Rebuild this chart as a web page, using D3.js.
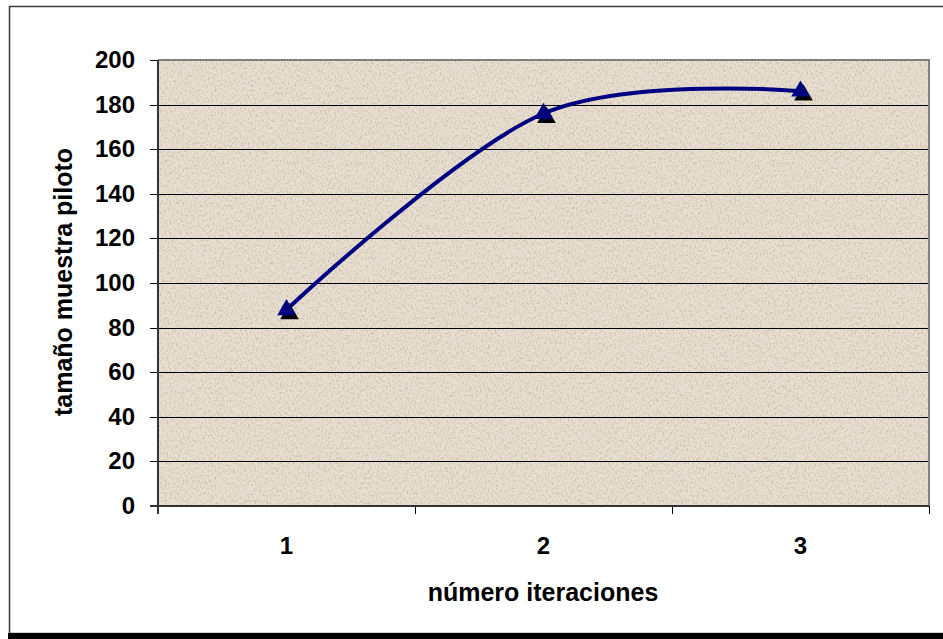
<!DOCTYPE html>
<html>
<head>
<meta charset="utf-8">
<script src="https://cdn.jsdelivr.net/npm/d3@7"></script>
<style>
  html, body { margin: 0; padding: 0; background: #fff; }
  svg { display: block; font-family: "Liberation Sans", Arial, sans-serif; }
</style>
</head>
<body>
<div id="chart"></div>
<script>
// Datos
const iteraciones = [1, 2, 3];
const tamanoMuestra = [88, 176, 186];
const yTicks = [0, 20, 40, 60, 80, 100, 120, 140, 160, 180, 200];
const xTitle = "número iteraciones";
const yTitle = "tamaño muestra piloto";

const width = 943, height = 639;
const plot = { left: 158, right: 929, top: 60, bottom: 506 };

const svg = d3.select("#chart")
    .append("svg")
    .attr("width", width)
    .attr("height", height);

// Textura del área de trazado
const defs = svg.append("defs");
const grain = defs.append("filter")
    .attr("id", "grain")
    .attr("x", 0).attr("y", 0).attr("width", 1).attr("height", 1);
grain.append("feTurbulence")
    .attr("type", "fractalNoise")
    .attr("baseFrequency", "0.6 0.4")
    .attr("numOctaves", 3)
    .attr("seed", 7);
grain.append("feColorMatrix")
    .attr("type", "matrix")
    .attr("values", "0 0 0 0 0.6  0 0 0 0 0.5  0 0 0 0 0.4  2.8 0 0 0 -1.3");

// Marco exterior
svg.append("rect")
    .attr("x", 9.5).attr("y", 6.5)
    .attr("width", width).attr("height", 627)
    .attr("fill", "#fff")
    .attr("stroke", "#3a3a3a")
    .attr("stroke-width", 1.5);
svg.append("rect")
    .attr("x", 8).attr("y", 633)
    .attr("width", width).attr("height", 6)
    .attr("fill", "#000");

const x = d3.scaleBand()
    .domain(iteraciones)
    .range([plot.left, plot.right]);

const y = d3.scaleLinear()
    .domain([0, 200])
    .range([plot.bottom, plot.top]);

// Fondo
svg.append("rect")
    .attr("x", plot.left).attr("y", plot.top)
    .attr("width", plot.right - plot.left)
    .attr("height", plot.bottom - plot.top)
    .attr("fill", "#e8dfd3");
svg.append("rect")
    .attr("x", plot.left).attr("y", plot.top)
    .attr("width", plot.right - plot.left)
    .attr("height", plot.bottom - plot.top)
    .attr("filter", "url(#grain)");

// Líneas de división
svg.append("g")
    .selectAll("line")
    .data(yTicks.filter(d => d > 0 && d < 200))
    .enter().append("line")
    .attr("x1", plot.left).attr("x2", plot.right)
    .attr("y1", d => Math.round(y(d)) + 0.5).attr("y2", d => Math.round(y(d)) + 0.5)
    .attr("stroke", "#000")
    .attr("stroke-width", 1);

// Borde gris del área de trazado
svg.append("path")
    .attr("d", `M${plot.left},${plot.top}H${plot.right}V${plot.bottom}`)
    .attr("fill", "none")
    .attr("stroke", "#808080")
    .attr("stroke-width", 2);

// Eje Y
const yAxis = d3.axisLeft(y)
    .tickValues(yTicks)
    .tickSize(8)
    .tickPadding(15);
const gy = svg.append("g")
    .attr("transform", `translate(${plot.left},0)`)
    .call(yAxis);
gy.select(".domain").remove();
gy.selectAll(".tick")
    .attr("transform", d => `translate(0,${Math.round(y(d)) + 0.5})`);
gy.selectAll("text")
    .attr("font-size", 24)
    .attr("font-weight", "bold")
    .attr("font-family", "Liberation Sans, Arial, sans-serif")
    .attr("fill", "#000");

// Eje X: marcas en los límites de cada categoría
const bounds = iteraciones.map(d => x(d)).concat([x(iteraciones[iteraciones.length - 1]) + x.bandwidth()]);
svg.append("g")
    .selectAll("line")
    .data(bounds)
    .enter().append("line")
    .attr("x1", d => Math.round(d) + 0.5).attr("x2", d => Math.round(d) + 0.5)
    .attr("y1", plot.bottom).attr("y2", plot.bottom + 8)
    .attr("stroke", "#000");
svg.append("g")
    .selectAll("text")
    .data(iteraciones)
    .enter().append("text")
    .attr("x", d => x(d) + x.bandwidth() / 2)
    .attr("y", 554)
    .attr("text-anchor", "middle")
    .attr("font-size", 24)
    .attr("font-weight", "bold")
    .text(d => d);

// Líneas de los ejes
svg.append("line")
    .attr("x1", plot.left).attr("x2", plot.left)
    .attr("y1", plot.top).attr("y2", plot.bottom + 8)
    .attr("stroke", "#333").attr("stroke-width", 2);
svg.append("line")
    .attr("x1", plot.left - 8).attr("x2", plot.right)
    .attr("y1", plot.bottom).attr("y2", plot.bottom)
    .attr("stroke", "#333").attr("stroke-width", 2);

// Títulos
svg.append("text")
    .attr("x", 543)
    .attr("y", 601)
    .attr("text-anchor", "middle")
    .attr("font-size", 25)
    .attr("font-weight", "bold")
    .text(xTitle);
svg.append("text")
    .attr("transform", "translate(72,282) rotate(-90)")
    .attr("text-anchor", "middle")
    .attr("font-size", 25)
    .attr("font-weight", "bold")
    .text(yTitle);

// Serie suavizada
const points = iteraciones.map((d, i) => [x(d) + x.bandwidth() / 2, y(tamanoMuestra[i])]);
const line = d3.line().curve(d3.curveCardinal.tension(0));
svg.append("path")
    .attr("d", line(points))
    .attr("fill", "none")
    .attr("stroke", "#000080")
    .attr("stroke-width", 4)
    .attr("stroke-linecap", "round");

// Marcadores triangulares con sombra
const tri = d3.symbol().type(d3.symbolTriangle).size(150);
svg.append("g")
    .selectAll("path")
    .data(points)
    .enter().append("path")
    .attr("d", tri)
    .attr("transform", d => `translate(${d[0] + 3},${d[1] + 4})`)
    .attr("fill", "#000");
svg.append("g")
    .selectAll("path")
    .data(points)
    .enter().append("path")
    .attr("d", tri)
    .attr("transform", d => `translate(${d[0]},${d[1]})`)
    .attr("fill", "#000080");
</script>
</body>
</html>
